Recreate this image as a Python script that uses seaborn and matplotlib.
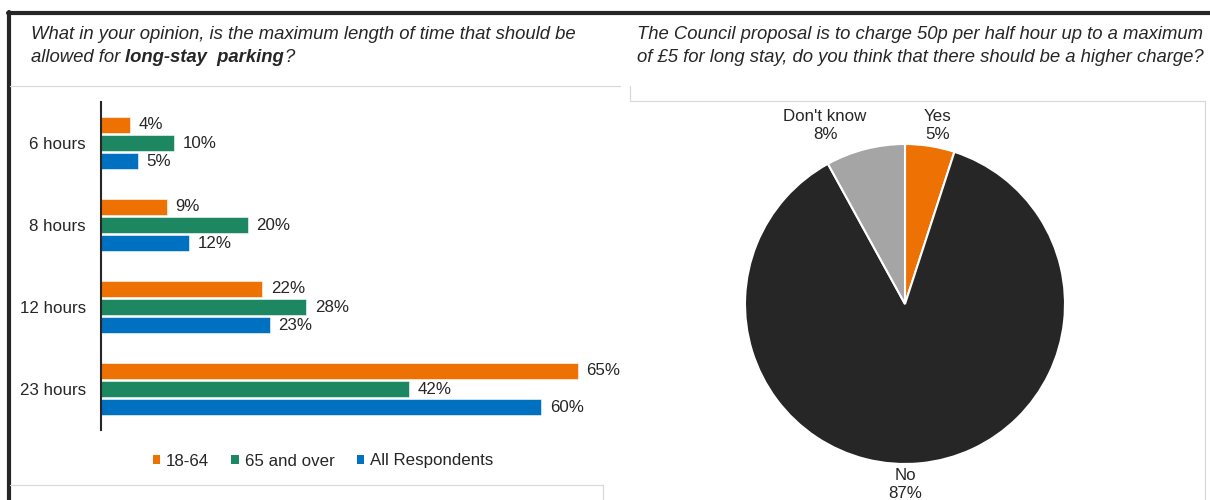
import matplotlib
matplotlib.use("Agg")
import matplotlib.pyplot as plt
from matplotlib.lines import Line2D
from matplotlib.patches import Patch
import pandas as pd
import seaborn as sns

# ---- data -------------------------------------------------------------
durations = ["6 hours", "8 hours", "12 hours", "23 hours"]
groups = ["18-64", "65 and over", "All Respondents"]
pct_18_64 = [4, 9, 22, 65]
pct_65_over = [10, 20, 28, 42]
pct_all = [5, 12, 23, 60]

pie_labels = ["Yes", "No", "Don't know"]
pie_values = [5, 87, 8]

title_left_1 = "What in your opinion, is the maximum length of time that should be"
title_left_2a = "allowed for "
title_left_2b = "long-stay  parking"
title_left_2c = "?"
title_right_1 = "The Council proposal is to charge 50p per half hour up to a maximum"
title_right_2 = "of £5 for long stay, do you think that there should be a higher charge?"

# ---- style ------------------------------------------------------------
ORANGE = "#EE7203"
GREEN = "#1D8761"
BLUE = "#0070C0"
DARK = "#262626"
GREY = "#A5A5A5"
FRAME = "#D9D9D9"

sns.set_theme(style="white")
plt.rcParams["font.family"] = ["Liberation Sans", "DejaVu Sans"]
plt.rcParams["text.color"] = DARK

W, H = 1210, 500
fig = plt.figure(figsize=(W / 100, H / 100), dpi=100)


def fx(px):
    return px / W


def fy(py):
    return 1 - py / H


# ---- panel frames -------------------------------------------------------
frame_lines = [
    # heavy outer border
    ((8, 1210), (13, 13), DARK, 3.0),
    ((9, 9), (12, 500), DARK, 3.0),
    # light panel outlines
    ((10, 620), (86, 86), FRAME, 0.9),
    ((630, 630), (86, 101), FRAME, 0.9),
    ((630, 1205), (101, 101), FRAME, 0.9),
    ((1205, 1205), (101, 500), FRAME, 0.9),
    ((10, 603), (485, 485), FRAME, 0.9),
    ((603, 603), (485, 500), FRAME, 0.9),
]
for xs, ys, col, lw in frame_lines:
    fig.add_artist(Line2D([fx(x) for x in xs], [fy(y) for y in ys],
                          color=col, linewidth=lw, transform=fig.transFigure))

# ---- titles -----------------------------------------------------------
fs_title = 13.3
base1, base2 = 39, 62
fig.text(fx(31), fy(base1), title_left_1, fontsize=fs_title, style="italic",
         va="baseline", ha="left")
t_a = fig.text(fx(31), fy(base2), title_left_2a, fontsize=fs_title,
               style="italic", va="baseline", ha="left")
t_b = fig.text(0, 0, title_left_2b, fontsize=fs_title, style="italic",
               weight="bold", va="baseline", ha="left")
t_c = fig.text(0, 0, title_left_2c, fontsize=fs_title, style="italic",
               va="baseline", ha="left")
fig.canvas.draw()
r = fig.canvas.get_renderer()
bb_a = t_a.get_window_extent(r)
t_b.set_position((bb_a.x1 / fig.bbox.width, fy(base2)))
bb_b = t_b.get_window_extent(r)
t_c.set_position((bb_b.x1 / fig.bbox.width, fy(base2)))

fig.text(fx(637), fy(base1), title_right_1, fontsize=fs_title, style="italic",
         va="baseline", ha="left")
fig.text(fx(637), fy(base2), title_right_2, fontsize=fs_title, style="italic",
         va="baseline", ha="left")

# ---- bar chart ----------------------------------------------------------
df = pd.DataFrame({
    "duration": durations * 3,
    "group": [groups[0]] * 4 + [groups[1]] * 4 + [groups[2]] * 4,
    "pct": pct_18_64 + pct_65_over + pct_all,
})
palette = dict(zip(groups, [ORANGE, GREEN, BLUE]))

ax1 = fig.add_axes([fx(101), fy(430), fx(600) - fx(101), fy(102) - fy(430)])
sns.barplot(data=df, x="pct", y="duration", hue="group", order=durations,
            hue_order=groups, palette=palette, orient="h", width=0.66,
            gap=0.1, errorbar=None, legend=False, saturation=1,
            edgecolor="white", linewidth=0.4, ax=ax1)
ax1.set_xlim(0, 68)
ax1.set_xlabel("")
ax1.set_ylabel("")
ax1.set_xticks([])
ax1.tick_params(axis="y", length=0, pad=10.8, labelsize=12.2, labelcolor=DARK)
for side in ["top", "right", "bottom"]:
    ax1.spines[side].set_visible(False)
ax1.spines["left"].set_color(DARK)
ax1.spines["left"].set_linewidth(1.5)
ax1.patch.set_alpha(0)

series = [pct_18_64, pct_65_over, pct_all]
for cont, vals in zip(ax1.containers, series):
    ax1.bar_label(cont, labels=[f"{v}%" for v in vals], padding=6,
                  fontsize=12.2, color=DARK)

handles = [Patch(facecolor=palette[g], edgecolor="none", label=g) for g in groups]
fig.legend(handles=handles, loc="center", bbox_to_anchor=(fx(323), fy(461)),
           ncol=3, frameon=False, fontsize=12.2, handlelength=0.45,
           handleheight=0.45, handletextpad=0.35, columnspacing=1.3)

# ---- pie chart -----------------------------------------------------------
R = 160
cx, cy = 905, 304
ax2 = fig.add_axes([fx(cx - R), fy(cy + R), 2 * R / W, 2 * R / H])
ax2.pie(pie_values, colors=[ORANGE, DARK, GREY], startangle=90,
        counterclock=False, radius=1,
        wedgeprops=dict(edgecolor="white", linewidth=1.5))
ax2.set_xlim(-1, 1)
ax2.set_ylim(-1, 1)
ax2.set_aspect("equal")
ax2.axis("off")

label_pos = {"Yes": (0.205, 1.115), "Don't know": (-0.5, 1.115), "No": (0.0, -1.125)}
for lab, val in zip(pie_labels, pie_values):
    x, y = label_pos[lab]
    ax2.text(x, y, f"{lab}\n{val}%", ha="center", va="center",
             fontsize=12.2, color=DARK, linespacing=1.25, clip_on=False)

fig.savefig("out.png", dpi=100)
